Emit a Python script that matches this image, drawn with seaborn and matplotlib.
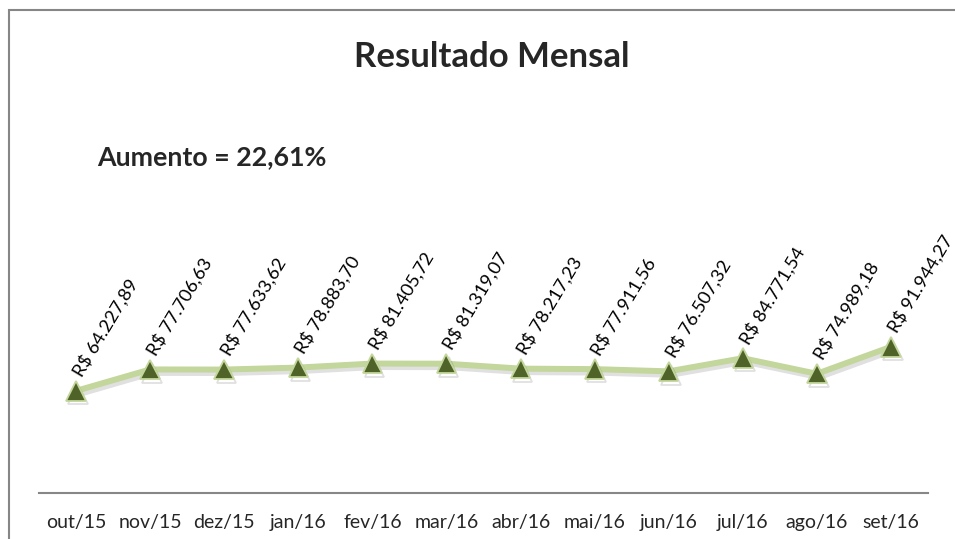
import matplotlib
matplotlib.use("Agg")
import matplotlib.pyplot as plt
import matplotlib.patheffects as pe
from matplotlib.patches import Rectangle
import seaborn as sns
import pandas as pd

months = ["out/15", "nov/15", "dez/15", "jan/16", "fev/16", "mar/16",
          "abr/16", "mai/16", "jun/16", "jul/16", "ago/16", "set/16"]
values = [64227.89, 77706.63, 77633.62, 78883.70, 81405.72, 81319.07,
          78217.23, 77911.56, 76507.32, 84771.54, 74989.18, 91944.27]
labels = ["R$ 64.227,89", "R$ 77.706,63", "R$ 77.633,62", "R$ 78.883,70",
          "R$ 81.405,72", "R$ 81.319,07", "R$ 78.217,23", "R$ 77.911,56",
          "R$ 76.507,32", "R$ 84.771,54", "R$ 74.989,18", "R$ 91.944,27"]
title = "Resultado Mensal"
note = "Aumento = 22,61%"

sns.set_style("white")
plt.rcParams['font.family'] = ['Lato', 'DejaVu Sans']

df = pd.DataFrame({"mes": months, "valor": values, "x": range(len(months))})

fig = plt.figure(figsize=(9.55, 5.39), dpi=100)
ax = fig.add_axes([39/955, 1-493/539, (928-39)/955, (493-175)/539])

line_color = "#C3D69B"
marker_color = "#4F6228"

sns.lineplot(data=df, x="x", y="valor", ax=ax, color=line_color, linewidth=4.3,
             marker="^", markersize=14, markerfacecolor=marker_color,
             markeredgecolor=line_color, markeredgewidth=1.3,
             path_effects=[pe.SimpleLineShadow(offset=(1.5, -2.5), shadow_color="black", alpha=0.12), pe.Normal()])

for i, (v, lab) in enumerate(zip(values, labels)):
    ax.annotate(lab, (i, v), xytext=(6, 8), textcoords="offset points",
                rotation=59, rotation_mode="anchor", ha="left", va="bottom",
                fontsize=13.2, color="black")

ax.set_xlim(-0.5, len(months) - 0.5)
ax.set_ylim(0, 200000)
ax.set_xticks(range(len(months)))
ax.set_xticklabels(months, fontsize=14)
ax.tick_params(axis="x", length=0, pad=15)
ax.set_yticks([])
ax.set_xlabel("")
ax.set_ylabel("")
for s in ["top", "right", "left"]:
    ax.spines[s].set_visible(False)
ax.spines["bottom"].set_color("#878787")
ax.spines["bottom"].set_linewidth(1.5)

fig.text(492/955, 1-57/539, title, ha="center", va="center", fontsize=25, fontweight="bold")
fig.text(97/955, 1-157/539, note, ha="left", va="center", fontsize=19.3, fontweight="bold")

fig.patches.append(Rectangle((9/955, -0.1), 1.2, 1 - 10/539 + 0.1, transform=fig.transFigure,
                             fill=False, edgecolor="#868686", linewidth=1.5))

fig.savefig("out.png", dpi=100)
